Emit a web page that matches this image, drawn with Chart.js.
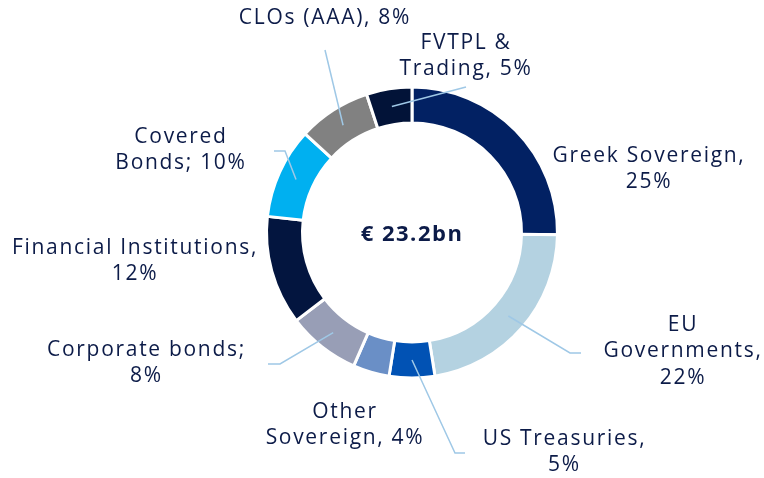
<!DOCTYPE html>
<html>
<head>
<meta charset="utf-8">
<script src="https://cdn.jsdelivr.net/npm/chart.js@4.4.0/dist/chart.umd.min.js"></script>
<style>
  html, body { margin: 0; padding: 0; background: #fff; }
  #wrap { width: 764px; height: 478px; }
</style>
</head>
<body>
<div id="wrap"><canvas id="grafico" width="764" height="478"></canvas></div>
<script>
// --- dados ---
const categorias = ['Greek Sovereign', 'EU Governments', 'US Treasuries', 'Other Sovereign',
  'Corporate bonds', 'Financial Institutions', 'Covered Bonds', 'CLOs (AAA)', 'FVTPL & Trading'];
const valores = [25, 22, 5, 4, 8, 12, 10, 8, 5];
const rotulos = [
  ['Greek Sovereign,', '25%'],
  ['EU', 'Governments,', '22%'],
  ['US Treasuries,', '5%'],
  ['Other', 'Sovereign, 4%'],
  ['Corporate bonds;', '8%'],
  ['Financial Institutions,', '12%'],
  ['Covered', 'Bonds; 10%'],
  ['CLOs (AAA), 8%'],
  ['FVTPL &', 'Trading, 5%']
];
const totalTexto = '€ 23.2bn';

// --- estilo ---
const cores = ['#022163', '#b4d2e1', '#0152b4', '#6a8fc6', '#989eb6', '#03153f', '#00b0f0', '#818181', '#021338'];
const corTexto = '#0c1b48';
const corLinha = '#9fc8e6';

// posição dos rótulos relativa ao centro (x, y da primeira linha)
const posRotulos = [
  [237, -76.5], [271, 92.5], [152.5, 206.5], [-67, 179.5], [-265.5, 117.5],
  [-277, 15.5], [-231, -95.5], [-87, -214.5], [54, -189.5]
];
// linhas de chamada: pontos relativos ao centro (a partir do meio do arco)
const linhasChamada = [
  null,
  [[158, 120.5], [169, 120.5]],
  [[43, 220.5], [53, 220.5]],
  null,
  [[-132, 131.5], [-144, 131.5]],
  null,
  [[-127, -81.5], [-138, -81.5]],
  [[-87, -182.5]],
  [[54, -145.5]]
];

const rotulosPlugin = {
  id: 'rotulos',
  afterDraw(chart) {
    const ctx = chart.ctx;
    const meta = chart.getDatasetMeta(0);
    const cx = (chart.chartArea.left + chart.chartArea.right) / 2;
    const cy = (chart.chartArea.top + chart.chartArea.bottom) / 2;
    ctx.save();

    // linhas de chamada
    ctx.strokeStyle = corLinha;
    ctx.lineWidth = 1.5;
    meta.data.forEach((arc, i) => {
      const pts = linhasChamada[i];
      if (!pts) return;
      const p = arc.tooltipPosition();
      ctx.beginPath();
      ctx.moveTo(p.x, p.y);
      pts.forEach(q => ctx.lineTo(cx + q[0], cy + q[1]));
      ctx.stroke();
    });

    // textos
    ctx.fillStyle = corTexto;
    ctx.textAlign = 'center';
    ctx.textBaseline = 'middle';
    ctx.font = '21px "Open Sans"';
    ctx.letterSpacing = '1.7px';
    rotulos.forEach((linhas, i) => {
      const pos = posRotulos[i];
      linhas.forEach((t, j) => {
        ctx.fillText(t, cx + pos[0], cy + pos[1] + j * 26.5);
      });
    });

    ctx.font = 'bold 22px "Open Sans"';
    ctx.letterSpacing = '1.5px';
    ctx.fillText(totalTexto, cx, cy + 2);
    ctx.restore();
  }
};

new Chart(document.getElementById('grafico').getContext('2d'), {
  type: 'doughnut',
  data: {
    labels: categorias,
    datasets: [{
      data: valores,
      backgroundColor: cores,
      borderColor: '#ffffff',
      borderWidth: 3,
      hoverOffset: 0
    }]
  },
  options: {
    responsive: false,
    animation: false,
    radius: 145.5,
    cutout: '75.26%',
    layout: { padding: { left: 60, top: 0, right: 0, bottom: 13 } },
    plugins: {
      legend: { display: false },
      tooltip: { enabled: false }
    }
  },
  plugins: [rotulosPlugin]
});
</script>
</body>
</html>
